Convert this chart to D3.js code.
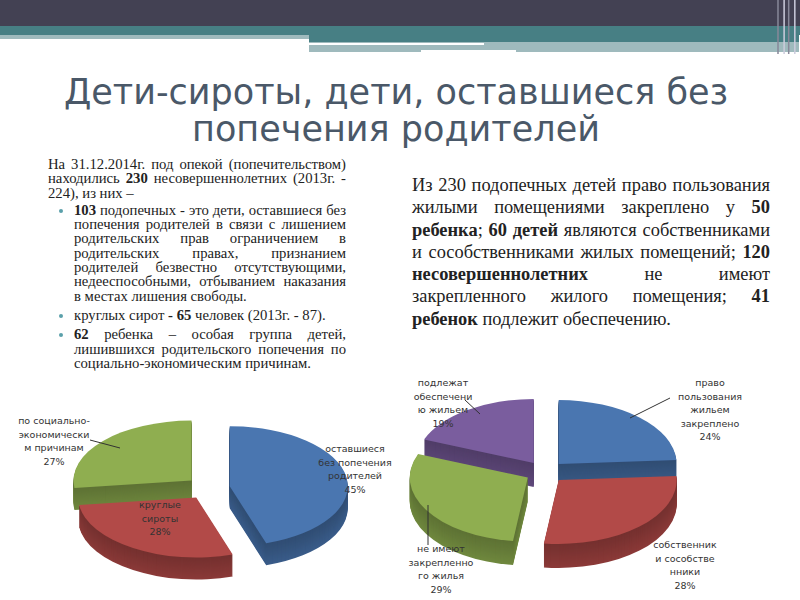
<!DOCTYPE html>
<html><head><meta charset="utf-8">
<script src="https://cdn.jsdelivr.net/npm/d3@7"></script>
<style>
body{margin:0;width:800px;height:600px;overflow:hidden;background:#fff;position:relative;font-family:"Liberation Serif",serif}
#chart{position:absolute;left:0;top:0}
.txt{position:absolute;text-align:justify;color:#222}
#left{left:48px;top:157px;width:298px;font-size:14.7px;line-height:14.3px}
#left ul{margin:3px 0 0 0;padding-left:26px}
#left li{margin-bottom:5px}
#left li::marker{color:#5aa0aa}
#right{left:412px;top:174px;width:358px;font-size:18.4px;line-height:22.3px}
</style></head><body>
<svg id="chart" width="800" height="600"></svg>
<div id="left" class="txt">На 31.12.2014г. под опекой (попечительством) находились <b>230</b> несовершеннолетних (2013г. - 224), из них –
<ul>
<li><b>103</b> подопечных - это дети, оставшиеся без попечения родителей в связи с лишением родительских прав ограничением в родительских правах, признанием родителей безвестно отсутствующими, недееспособными, отбыванием наказания в местах лишения свободы.</li>
<li>круглых сирот <b>- 65</b> человек (2013г. - 87).</li>
<li><b>62</b> ребенка – особая группа детей, лишившихся родительского попечения по социально-экономическим причинам.</li>
</ul></div>
<div id="right" class="txt">Из 230 подопечных детей право пользования жилыми помещениями закреплено у <b>50 ребенка</b>; <b>60 детей</b> являются собственниками и сособственниками жилых помещений; <b>120 несовершеннолетних</b> не имеют закрепленного жилого помещения; <b>41 ребенок</b> подлежит обеспечению.</div>
<script>
const leftCats = ["оставшиеся без попечения родителей", "круглые сироты", "по социально-экономическим причинам"];
const leftVals = [45, 28, 27];
const leftColors = ["#4a76b0", "#b24a48", "#8fae50"];
const rightCats = ["право пользования жильем закреплено", "собственники и сособственники", "не имеют закрепленного жилья", "подлежат обеспечению жильем"];
const rightVals = [24, 28, 29, 19];
const rightColors = ["#4a76b0", "#b24a48", "#8fae50", "#7a5d9e"];

const svg = d3.select("#chart");
// header bands
svg.append("rect").attr("x",0).attr("y",0).attr("width",800).attr("height",26).attr("fill","#434153");
svg.append("rect").attr("x",0).attr("y",26).attr("width",800).attr("height",9).attr("fill","#477f84");
svg.append("rect").attr("x",0).attr("y",35).attr("width",310).attr("height",4).attr("fill","#9fbabd");
svg.append("rect").attr("x",309).attr("y",35).attr("width",490).attr("height",8).attr("fill","#477f84");
svg.append("rect").attr("x",309).attr("y",42).attr("width",490).attr("height",10).attr("fill","#9fbabd");
svg.append("rect").attr("x",309).attr("y",43).attr("width",175).attr("height",2).attr("fill","#fff");
svg.append("rect").attr("x",421).attr("y",50).attr("width",95).attr("height",3).attr("fill","#fff");
[508,512,515,519].forEach((x,i)=>svg.append("rect").attr("x",x*1.53).attr("y",0).attr("width",1.5).attr("height",54).attr("fill",i%2?"#ccd":"#889"));

const title = svg.append("text").attr("text-anchor","middle").attr("fill","#4a5868")
  .style("font-family","'DejaVu Sans',sans-serif").style("font-size","35px");
title.append("tspan").attr("x",396).attr("y",104).text("Дети-сироты, дети, оставшиеся без");
title.append("tspan").attr("x",396).attr("y",141).text("попечения родителей");

function shade(c,k){ return d3.color(c).darker(k).toString(); }

function pie3d(vals, colors, cx, cy, rx, ry, depth, explode){
  const pie = d3.pie().sort(null).value(d=>d)(vals);
  const arc = d3.arc().innerRadius(0).outerRadius(rx);
  const g = svg.append("g");
  const order = pie.map((p,i)=>i).sort((a,b)=>{
    const ma=(pie[a].startAngle+pie[a].endAngle)/2, mb=(pie[b].startAngle+pie[b].endAngle)/2;
    return -Math.cos(ma) - -Math.cos(mb);
  });
  order.forEach(i=>{
    const p = pie[i];
    const m = (p.startAngle+p.endAngle)/2;
    const ox = Math.sin(m)*explode, oy = -Math.cos(m)*explode*ry/rx;
    const sg = g.append("g").attr("transform",`translate(${cx+ox},${cy+oy})`);
    for(let d=depth; d>0; d--){
      sg.append("path").attr("d",arc(p))
        .attr("transform",`translate(0,${d}) scale(1,${ry/rx})`)
        .attr("fill",shade(colors[i], 1.2 - 0.5*d/depth));
    }
    sg.append("path").attr("d",arc(p)).attr("transform",`scale(1,${ry/rx})`).attr("fill",colors[i]);
  });
}
pie3d(leftVals, leftColors, 208, 488, 118, 60, 22, 22);
pie3d(rightVals, rightColors, 545, 472, 118, 64, 24, 20);

function label(lines, x, y, anchor){
  const t = svg.append("text").attr("text-anchor",anchor||"middle").attr("fill","#333")
    .style("font-family","'DejaVu Sans',sans-serif").style("font-size","9.5px");
  lines.forEach((l,i)=>t.append("tspan").attr("x",x).attr("y",y+i*13.5).text(l));
}
const pct = v => v + "%";
label(["оставшиеся","без попечения","родителей",pct(leftVals[0])], 355, 452);
label(["круглые","сироты",pct(leftVals[1])], 160, 508);
label(["по социально-","экономически","м причинам",pct(leftVals[2])], 54, 424);
svg.append("path").attr("d","M90,440 L120,448").attr("stroke","#333").attr("fill","none");
label(["право","пользования","жильем","закреплено",pct(rightVals[0])], 710, 386);
label(["собственник","и сособстве","нники",pct(rightVals[1])], 685, 548);
label(["не имеют","закрепленно","го жилья",pct(rightVals[2])], 441, 552);
label(["подлежат","обеспечени","ю жильем",pct(rightVals[3])], 443, 386);
svg.append("path").attr("d","M670,398 L630,418").attr("stroke","#333").attr("fill","none");
svg.append("path").attr("d","M465,400 L480,414").attr("stroke","#333").attr("fill","none");
svg.append("path").attr("d","M428,545 L428,505").attr("stroke","#333").attr("fill","none");
</script>
</body></html>
